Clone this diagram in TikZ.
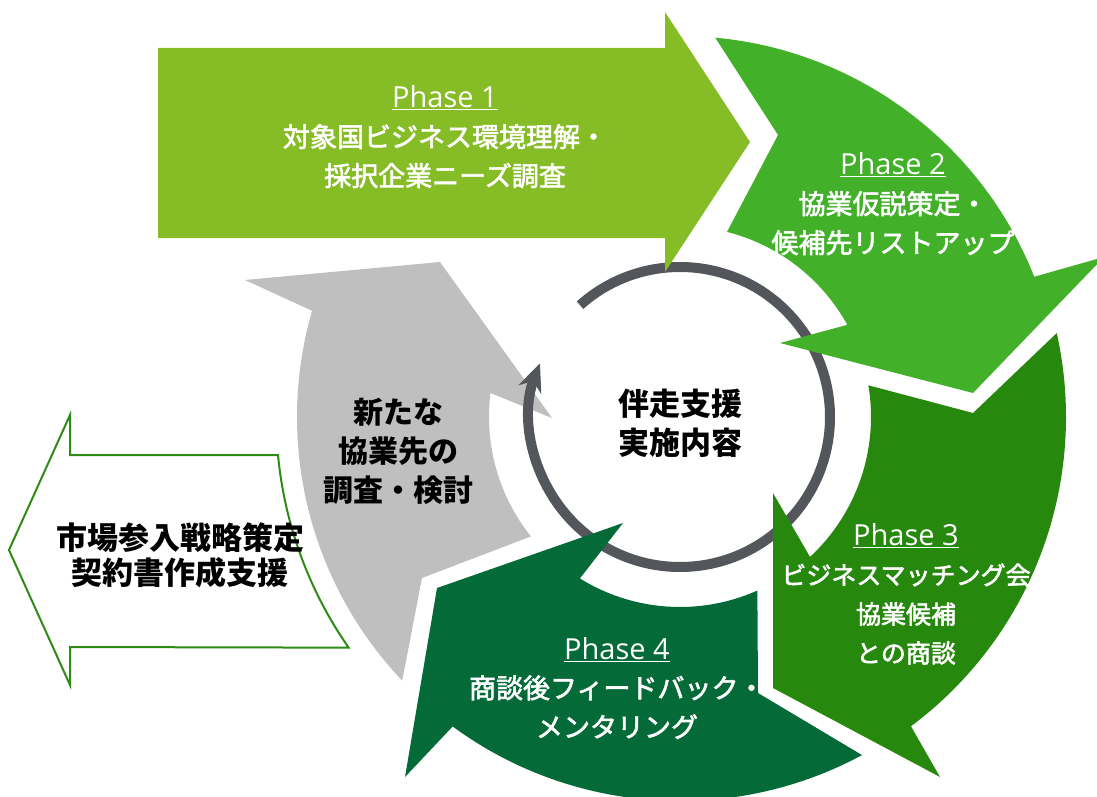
\documentclass[tikz,border=0pt]{standalone}
\usepackage{fontspec}
\setmainfont{Noto Sans CJK JP}
\newfontfamily\jpwhite[FakeBold=2.2]{Noto Sans CJK JP}
\newfontfamily\latinfont{Open Sans}
\usetikzlibrary{calc,arrows.meta}
\definecolor{pone}{HTML}{86BC25}
\definecolor{ptwo}{HTML}{43B02A}
\definecolor{pthree}{HTML}{26890D}
\definecolor{pfour}{HTML}{046A38}
\definecolor{pgray}{HTML}{BFBFBF}
\definecolor{pring}{HTML}{53565A}
\definecolor{poutline}{HTML}{2E8B15}
\newcommand{\phaselabel}[1]{\underline{\fontsize{29}{39}\selectfont\latinfont Phase #1}}
\tikzset{
  oneshape/.style={fill=pone, draw=none},
  twoshape/.style={fill=ptwo, draw=none},
  threeshape/.style={fill=pthree, draw=none},
  fourshape/.style={fill=pfour, draw=none},
  grayshape/.style={fill=pgray, draw=none},
  outshape/.style={fill=white, draw=poutline, line width=2pt, line join=miter},
  ringline/.style={draw=pring, line width=10pt},
  wtext/.style={text=white, align=center, font=\fontsize{27}{39}\selectfont\jpwhite},
  btext/.style={text=black, align=center, font=\fontsize{31}{39}\selectfont\bfseries},
}
\begin{document}
\begin{tikzpicture}[x=1pt, y=1pt, yscale=-1]
\useasboundingbox (0,0) rectangle (1097,797);
\clip (0,0) rectangle (1097,797);
\coordinate (C) at (680,417);

% left outline arrow
\draw[outshape] (9,550) -- (70,415) -- (70,455) -- (278,455)
  arc[start angle=174.6, end angle=145.1, radius=403]
  -- (70,647) -- (70,685) -- cycle;

% gray arrow
\fill[grayshape] ($(C)+(136.5:383)$) arc[start angle=136.5, end angle=196.1, radius=383]
  -- (245,280) -- (440,262) -- (552,418)
  -- ($(C)+(187.2:191)$) arc[start angle=187.2, end angle=141.3, radius=191]
  -- (422,578) -- cycle;

% ring with arrow
\draw[ringline, -{Stealth[length=28pt, width=24pt, inset=9pt]}]
  ($(C)+(-131.8:150)$) arc[start angle=-131.8, end angle=201, radius=150];

% Phase 1
\fill[oneshape] (158,48) -- (665,48) -- (665,12) -- (750,142) -- (665,272) -- (665,238) -- (158,238) -- cycle;

% Phase 2
\fill[twoshape] ($(C)+(-84.7:381)$) arc[start angle=-84.7, end angle=-21.6, radius=381]
  -- (1104,257) -- (973,393) -- (780,343)
  -- ($(C)+(-28.85:191)$) arc[start angle=-28.85, end angle=-75.75, radius=191]
  -- (778,135) -- cycle;

% Phase 3
\fill[threeshape] ($(C)+(-12.56:386)$) arc[start angle=-12.56, end angle=53.25, radius=386]
  -- (940,777) -- (773,688) -- (773,493)
  -- ($(C)+(47.1:191)$) arc[start angle=47.1, end angle=-9.56, radius=191]
  -- (973,413) -- cycle;

% Phase 4
\fill[fourshape] ($(C)+(61.7:384)$) arc[start angle=61.7, end angle=126.3, radius=384]
  -- (405,777) -- (437,588) -- (623,523)
  -- ($(C)+(121.8:190)$) arc[start angle=121.8, end angle=65.97, radius=190]
  -- (758,693) -- cycle;

% texts
\node[wtext] (t1) at (445,137) {\phaselabel{1}\\対象国ビジネス環境理解・\\採択企業ニーズ調査};
\node[wtext] (t2) at (893,204) {\phaselabel{2}\\協業仮説策定・\\候補先リストアップ};
\node[wtext, font=\fontsize{25}{39}\selectfont\jpwhite] (t3) at (906,594) {\phaselabel{3}\\ビジネスマッチング会\\協業候補\\との商談};
\node[wtext] (t4) at (617,688) {\phaselabel{4}\\商談後フィードバック・\\メンタリング};
\node[btext, font=\fontsize{30}{39}\selectfont\bfseries] (tg) at (398,451) {新たな\\協業先の\\調査・検討};
\node[btext] (tc) at (680,423) {伴走支援\\実施内容};
\node[btext, font=\fontsize{31}{35}\selectfont\bfseries] (tl) at (180,555) {市場参入戦略策定\\契約書作成支援};
\end{tikzpicture}
\end{document}
